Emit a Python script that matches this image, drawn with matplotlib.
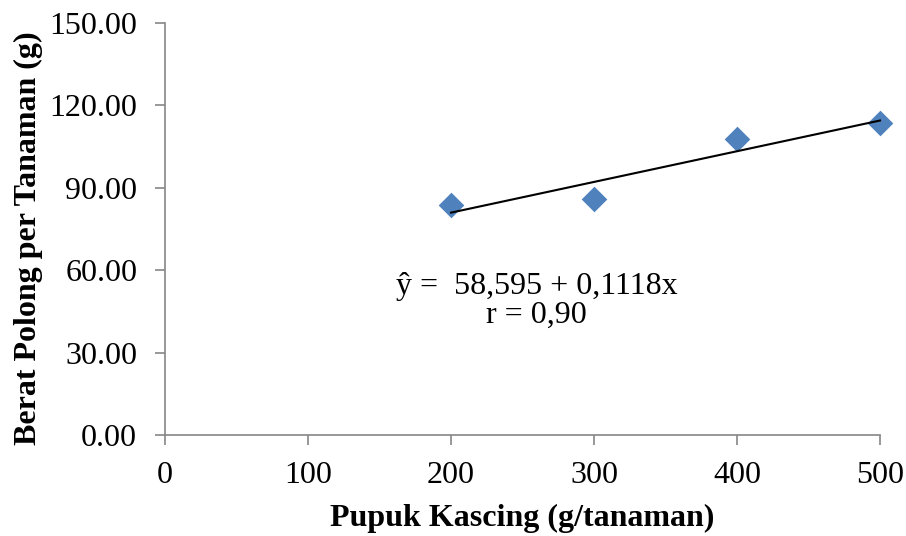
import numpy as np
import matplotlib.pyplot as plt

plt.rcParams['font.family'] = ['Liberation Serif', 'DejaVu Serif']

# data
dosis = [200, 300, 400, 500]
berat = [83.7, 85.9, 107.6, 113.7]
intercept = 58.595
slope = 0.1118

x_ticks = [0, 100, 200, 300, 400, 500]
y_ticks = [0, 30, 60, 90, 120, 150]

fig = plt.figure(figsize=(9.06, 5.36), dpi=100)
ax = fig.add_axes([0.1821, 0.1884, 0.7892, 0.7687])

ax.scatter(dosis, berat, marker='D', s=170, color='#4F81BD', zorder=3,
           linewidths=0, clip_on=False)

x_fit = np.array([dosis[0], dosis[-1]])
ax.plot(x_fit, intercept + slope * x_fit, color='black', lw=1.5, zorder=4,
        clip_on=False)

ax.text(260, 48.8, "ŷ =  58,595 + 0,1118x\nr = 0,90", ha='center', va='center',
        fontsize=23, linespacing=1.0)

ax.set_xlim(0, 500)
ax.set_ylim(0, 150)
ax.set_xticks(x_ticks)
ax.set_yticks(y_ticks)
ax.set_yticklabels([f'{v:.2f}' for v in y_ticks])

for side in ['top', 'right']:
    ax.spines[side].set_visible(False)
for side in ['left', 'bottom']:
    ax.spines[side].set_color('#868686')
    ax.spines[side].set_linewidth(1.2)

ax.tick_params(axis='both', direction='out', length=7, width=1.2, color='#868686',
               labelsize=23)
ax.tick_params(axis='x', pad=11.5)
ax.tick_params(axis='y', pad=13)

ax.set_xlabel('Pupuk Kascing (g/tanaman)', fontsize=23, fontweight='bold', labelpad=10.5)
ax.set_ylabel('Berat Polong per Tanaman (g)', fontsize=23, fontweight='bold')
ax.yaxis.set_label_coords(-0.171, 0.478)

fig.savefig('out.png', dpi=100)
